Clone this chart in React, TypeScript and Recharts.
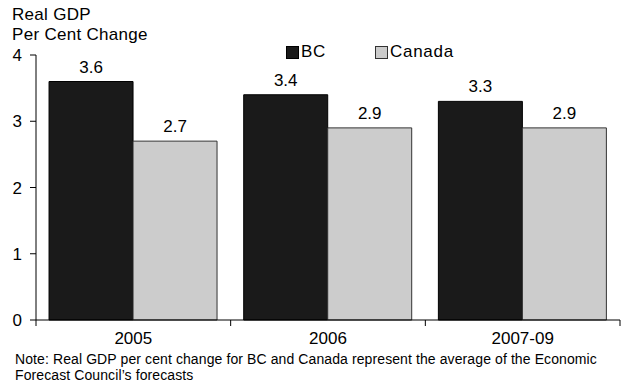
import React from "react";
import { Bar, BarChart, LabelList, XAxis, YAxis } from "recharts";

const categories = ["2005", "2006", "2007-09"];
const bcValues = [3.6, 3.4, 3.3];
const canadaValues = [2.7, 2.9, 2.9];
const yTicks = [0, 1, 2, 3, 4];
const seriesNames = ["BC", "Canada"];

const data = categories.map((name, i) => ({
    name,
    BC: bcValues[i],
    Canada: canadaValues[i],
}));

const FONT = '"Liberation Sans", Arial, Helvetica, sans-serif';
const W = 621;
const H = 383;
const LEFT = 36;
const RIGHT = 1;
const TOP = 55;
const XAXIS_H = 63;
const HALF_BAND = (W - LEFT - RIGHT) / categories.length / 2;

const fills: Record<string, string> = { BC: "#1a1a1a", Canada: "#cccccc" };
const strokes: Record<string, string> = { BC: "#000000", Canada: "#333333" };

function XTick(props: any) {
    const { x, y, payload, index } = props;
    const axisY = H - XAXIS_H;
    return (
        <g>
            <line x1={x - HALF_BAND} y1={axisY} x2={x - HALF_BAND} y2={axisY + 6} stroke="#000" />
            {index === categories.length - 1 && (
                <line x1={x + HALF_BAND} y1={axisY} x2={x + HALF_BAND} y2={axisY + 6} stroke="#000" />
            )}
            <text x={x} y={y + 16} textAnchor="middle" fontSize={17} fill="#000" fontFamily={FONT}>
                {payload.value}
            </text>
        </g>
    );
}

export default function App() {
    return (
        <div
            style={{
                position: "absolute",
                left: 0,
                top: 0,
                width: W,
                height: H,
                background: "#fff",
                fontFamily: FONT,
                color: "#000",
                overflow: "hidden",
            }}
        >
            <div
                style={{
                    position: "absolute",
                    left: 12,
                    top: 5,
                    fontSize: 17,
                    lineHeight: "20px",
                    letterSpacing: 0.3,
                }}
            >
                Real GDP
                <br />
                Per Cent Change
            </div>
            <div
                style={{
                    position: "absolute",
                    left: 286,
                    top: 42,
                    fontSize: 17,
                    lineHeight: "20px",
                    letterSpacing: 0.7,
                    display: "flex",
                    gap: 49,
                    zIndex: 2,
                }}
            >
                {seriesNames.map((s) => (
                    <div key={s} style={{ display: "flex", alignItems: "center" }}>
                        <span
                            style={{
                                display: "inline-block",
                                width: 11,
                                height: 11,
                                background: fills[s],
                                border: `1px solid ${strokes[s]}`,
                                marginRight: 2,
                            }}
                        />
                        <span>{s}</span>
                    </div>
                ))}
            </div>
            <div style={{ position: "absolute", left: 0, top: 0 }}>
                <BarChart
                    width={W}
                    height={H}
                    data={data}
                    margin={{ top: TOP, right: RIGHT, bottom: 0, left: 0 }}
                    barCategoryGap="6.7%"
                    barGap={0}
                >
                    <XAxis
                        dataKey="name"
                        height={XAXIS_H}
                        axisLine={{ stroke: "#000" }}
                        tickLine={false}
                        tick={<XTick />}
                        interval={0}
                    />
                    <YAxis
                        width={LEFT}
                        domain={[0, 4]}
                        ticks={yTicks}
                        tickSize={6}
                        tickMargin={8}
                        axisLine={{ stroke: "#000" }}
                        tickLine={{ stroke: "#000" }}
                        tick={{ fontSize: 17, fill: "#000", fontFamily: FONT }}
                    />
                    {seriesNames.map((s) => (
                        <Bar
                            key={s}
                            dataKey={s}
                            fill={fills[s]}
                            stroke={strokes[s]}
                            strokeWidth={1}
                            isAnimationActive={false}
                        >
                            <LabelList
                                dataKey={s}
                                position="top"
                                offset={9}
                                fontSize={17}
                                fill="#000"
                                fontFamily={FONT}
                            />
                        </Bar>
                    ))}
                </BarChart>
            </div>
            <div
                style={{
                    position: "absolute",
                    left: 15,
                    top: 351,
                    fontSize: 14,
                    lineHeight: "16px",
                    letterSpacing: 0.1,
                    whiteSpace: "nowrap",
                }}
            >
                Note: Real GDP per cent change for BC and Canada represent the average of the Economic
                <br />
                Forecast Council’s forecasts
            </div>
        </div>
    );
}
